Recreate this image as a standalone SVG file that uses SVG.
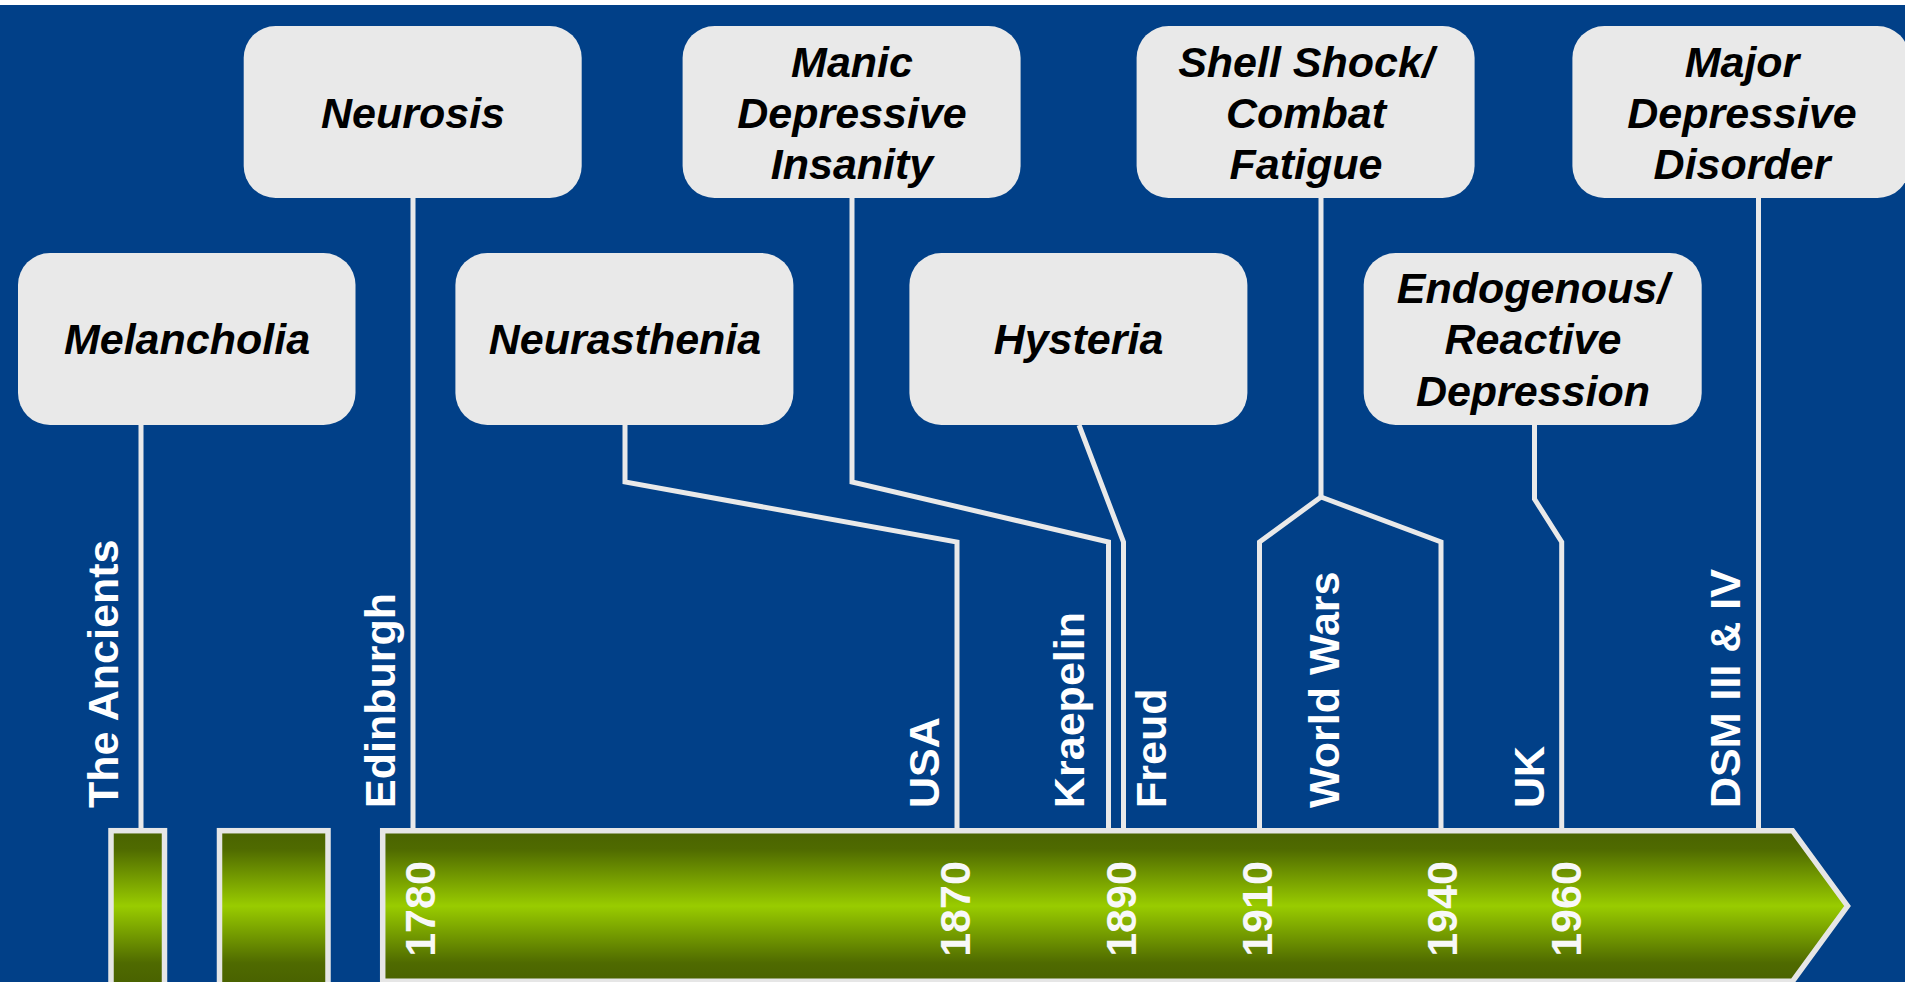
<svg xmlns="http://www.w3.org/2000/svg" width="1905" height="982" viewBox="0 0 1905 982">
<defs>
<linearGradient id="green" gradientUnits="userSpaceOnUse" x1="0" y1="831" x2="0" y2="981">
<stop offset="0" stop-color="#4a6300"/>
<stop offset="0.12" stop-color="#4f6a00"/>
<stop offset="0.5" stop-color="#99cc00"/>
<stop offset="0.88" stop-color="#4f6a00"/>
<stop offset="1" stop-color="#4a6300"/>
</linearGradient>
<style>
.box{fill:#e9e9e9;}
.bt{font-family:"Liberation Sans",Arial,sans-serif;font-size:43px;font-weight:bold;font-style:italic;fill:#000;text-anchor:middle;}
.lbl{font-family:"Liberation Sans",Arial,sans-serif;font-size:43px;font-weight:bold;fill:#fff;}
.yr{font-family:"Liberation Sans",Arial,sans-serif;font-size:43px;font-weight:bold;fill:#f8f8f8;text-anchor:middle;}
.con{fill:none;stroke:#e9e9e9;stroke-width:5;stroke-linejoin:miter;}
.bar{fill:url(#green);stroke:#e6e6e6;stroke-width:5.5;}
</style>
</defs>
<rect x="0" y="0" width="1905" height="982" fill="#ffffff"/>
<rect x="0" y="5" width="1905" height="977" fill="#014088"/>

<g id="connectors">
<polyline class="con" points="141,425 141,829"/>
<polyline class="con" points="413,198 413,829"/>
<polyline class="con" points="625,425 625,482 957,542 957,829"/>
<polyline class="con" points="852,198 852,482 1108.5,542 1108.5,829"/>
<polyline class="con" points="1079,425 1123.5,542 1123.5,829"/>
<polyline class="con" points="1321,198 1321,497"/>
<polyline class="con" points="1321,497 1259.5,542 1259.5,829"/>
<polyline class="con" points="1321,497 1441,542 1441,829"/>
<polyline class="con" points="1534.5,425 1534.5,499 1561.7,542 1561.7,829"/>
<polyline class="con" points="1758.5,198 1758.5,829"/>
</g>

<g id="timeline">
<rect class="bar" x="111" y="830.7" width="53.5" height="160"/>
<rect class="bar" x="219.5" y="830.7" width="108.5" height="160"/>
<polygon class="bar" points="382.7,830.7 1792.5,830.7 1847.5,906 1792.5,981.3 382.7,981.3"/>
</g>

<g id="node-melancholia">
<rect class="box" x="18" y="253" width="337.5" height="172" rx="32" ry="32"/>
<text class="bt" x="187" y="354">Melancholia</text>
</g>
<g id="node-neurosis">
<rect class="box" x="243.7" y="26" width="338" height="172" rx="32" ry="32"/>
<text class="bt" x="413" y="128">Neurosis</text>
</g>
<g id="node-neurasthenia">
<rect class="box" x="455.4" y="253" width="338" height="172" rx="32" ry="32"/>
<text class="bt" x="625" y="354">Neurasthenia</text>
</g>
<g id="node-manic">
<rect class="box" x="682.6" y="26" width="338" height="172" rx="32" ry="32"/>
<text class="bt" x="852" y="77">Manic</text>
<text class="bt" x="852" y="128">Depressive</text>
<text class="bt" x="852" y="179">Insanity</text>
</g>
<g id="node-hysteria">
<rect class="box" x="909.4" y="253" width="338" height="172" rx="32" ry="32"/>
<text class="bt" x="1078.5" y="354">Hysteria</text>
</g>
<g id="node-shellshock">
<rect class="box" x="1136.6" y="26" width="338" height="172" rx="32" ry="32"/>
<text class="bt" x="1306" y="77">Shell Shock/</text>
<text class="bt" x="1306" y="128">Combat</text>
<text class="bt" x="1306" y="179">Fatigue</text>
</g>
<g id="node-endogenous">
<rect class="box" x="1363.7" y="253" width="338" height="172" rx="32" ry="32"/>
<text class="bt" x="1533" y="303">Endogenous/</text>
<text class="bt" x="1533" y="354">Reactive</text>
<text class="bt" x="1533" y="406">Depression</text>
</g>
<g id="node-major">
<rect class="box" x="1572.4" y="26" width="337" height="172" rx="32" ry="32"/>
<text class="bt" x="1742" y="77">Major</text>
<text class="bt" x="1742" y="128">Depressive</text>
<text class="bt" x="1742" y="179">Disorder</text>
</g>

<g id="labels">
<text class="lbl" transform="translate(118,808) rotate(-90)">The Ancients</text>
<text class="lbl" transform="translate(394.5,808) rotate(-90)">Edinburgh</text>
<text class="lbl" transform="translate(939,808) rotate(-90)">USA</text>
<text class="lbl" transform="translate(1084,808) rotate(-90)">Kraepelin</text>
<text class="lbl" transform="translate(1166,808) rotate(-90)">Freud</text>
<text class="lbl" transform="translate(1339,808) rotate(-90)">World Wars</text>
<text class="lbl" transform="translate(1543.5,808) rotate(-90)">UK</text>
<text class="lbl" transform="translate(1740,808) rotate(-90)">DSM III &amp; IV</text>
</g>

<g id="years">
<text class="yr" transform="translate(435,909) rotate(-90)">1780</text>
<text class="yr" transform="translate(970,909) rotate(-90)">1870</text>
<text class="yr" transform="translate(1135.5,909) rotate(-90)">1890</text>
<text class="yr" transform="translate(1272,909) rotate(-90)">1910</text>
<text class="yr" transform="translate(1457,909) rotate(-90)">1940</text>
<text class="yr" transform="translate(1580.5,909) rotate(-90)">1960</text>
</g>
</svg>
